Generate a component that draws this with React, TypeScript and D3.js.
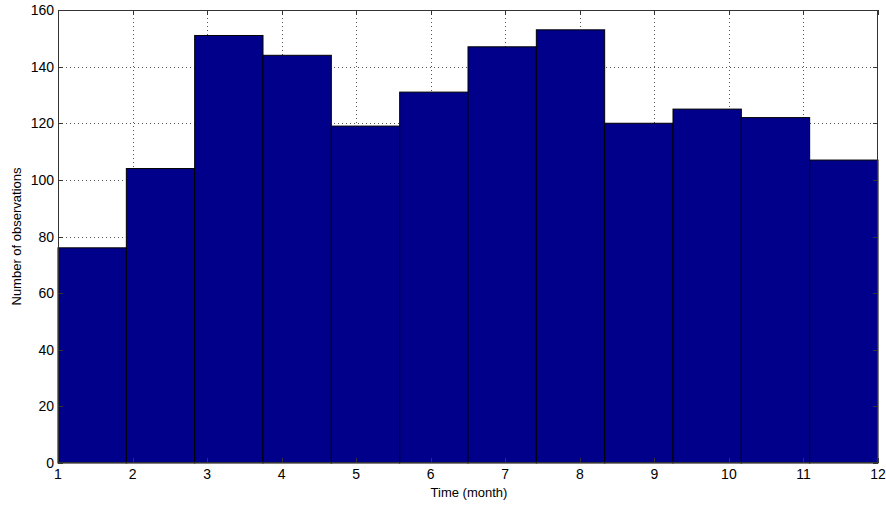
import React, { useEffect, useRef } from "react";
import * as d3 from "d3";

// histogram counts for 12 bins spanning month 1..12
const counts = [76, 104, 151, 144, 119, 131, 147, 153, 120, 125, 122, 107];
const xTicks = [1, 2, 3, 4, 5, 6, 7, 8, 9, 10, 11, 12];
const yTicks = [0, 20, 40, 60, 80, 100, 120, 140, 160];
const xDomain: [number, number] = [1, 12];
const yDomain: [number, number] = [0, 160];

const xAxisLabel = "Time (month)";
const yAxisLabel = "Number of observations";

const HistChart = () => {
  const width = 886;
  const height = 505;
  const margin = { top: 10, right: 8, bottom: 42, left: 58 };
  const graphWidth = width - margin.left - margin.right;
  const graphHeight = height - margin.top - margin.bottom;
  const canvasRef = useRef<HTMLDivElement>(null);

  useEffect(() => {
    d3.select(canvasRef.current).selectAll("*").remove();

    const svg = d3
      .select(canvasRef.current)
      .append("svg")
      .attr("width", width)
      .attr("height", height)
      .style("position", "absolute")
      .style("left", "0px")
      .style("top", "0px")
      .style("background", "#fff")
      .style("font-family", "'Liberation Sans', Arial, sans-serif");

    const graph = svg.append("g").attr("transform", `translate(${margin.left},${margin.top})`);

    const x = d3.scaleLinear().domain(xDomain).range([0, graphWidth]);
    const y = d3.scaleLinear().domain(yDomain).range([graphHeight, 0]);

    // grid (dotted, under the bars)
    const grid = graph.append("g").attr("stroke", "#555").attr("stroke-width", 1).attr("stroke-dasharray", "1,3");
    grid
      .selectAll("line.gx")
      .data(xTicks.slice(1, -1))
      .join("line")
      .attr("x1", (d) => Math.round(x(d)) + 0.5)
      .attr("x2", (d) => Math.round(x(d)) + 0.5)
      .attr("y1", 0)
      .attr("y2", graphHeight);
    grid
      .selectAll("line.gy")
      .data(yTicks.slice(1, -1))
      .join("line")
      .attr("x1", 0)
      .attr("x2", graphWidth)
      .attr("y1", (d) => Math.round(y(d)) + 0.5)
      .attr("y2", (d) => Math.round(y(d)) + 0.5);

    // bars
    const binWidth = (xDomain[1] - xDomain[0]) / counts.length;
    graph
      .selectAll("rect.bar")
      .data(counts)
      .join("rect")
      .attr("class", "bar")
      .attr("x", (_, i) => x(xDomain[0] + i * binWidth))
      .attr("width", () => x(xDomain[0] + binWidth) - x(xDomain[0]))
      .attr("y", (d) => y(d))
      .attr("height", (d) => graphHeight - y(d))
      .attr("fill", "#00008b")
      .attr("stroke", "#000")
      .attr("stroke-width", 1);

    // box + inward ticks on all sides
    const tickLen = 5;
    const frame = graph.append("g").attr("stroke", "#333").attr("stroke-width", 1).attr("fill", "none");
    frame.append("rect").attr("x", 0.5).attr("y", 0.5).attr("width", graphWidth - 1).attr("height", graphHeight - 1);
    xTicks.forEach((t) => {
      const px = Math.round(x(t)) + 0.5;
      frame.append("line").attr("x1", px).attr("x2", px).attr("y1", graphHeight).attr("y2", graphHeight - tickLen);
      frame.append("line").attr("x1", px).attr("x2", px).attr("y1", 0).attr("y2", tickLen);
    });
    yTicks.forEach((t) => {
      const py = Math.round(y(t)) + 0.5;
      frame.append("line").attr("x1", 0).attr("x2", tickLen).attr("y1", py).attr("y2", py);
      frame.append("line").attr("x1", graphWidth).attr("x2", graphWidth - tickLen).attr("y1", py).attr("y2", py);
    });

    // tick labels
    graph
      .selectAll("text.xt")
      .data(xTicks)
      .join("text")
      .attr("x", (d) => x(d))
      .attr("y", graphHeight + 16)
      .attr("text-anchor", "middle")
      .attr("font-size", 14)
      .attr("fill", "#000")
      .text((d) => d);
    graph
      .selectAll("text.yt")
      .data(yTicks)
      .join("text")
      .attr("x", -4)
      .attr("y", (d) => y(d) + 5)
      .attr("text-anchor", "end")
      .attr("font-size", 14)
      .attr("fill", "#000")
      .text((d) => d);

    svg
      .append("text")
      .attr("text-anchor", "middle")
      .attr("x", margin.left + graphWidth / 2 + 1)
      .attr("y", 497)
      .attr("font-size", 13)
      .text(xAxisLabel);

    svg
      .append("text")
      .attr("text-anchor", "middle")
      .attr("transform", `translate(21,${margin.top + graphHeight / 2}) rotate(-90)`)
      .attr("font-size", 13)
      .text(yAxisLabel);
  }, []);

  return <div ref={canvasRef} className="canvas"></div>;
};

export default function App() {
  return <HistChart />;
}
